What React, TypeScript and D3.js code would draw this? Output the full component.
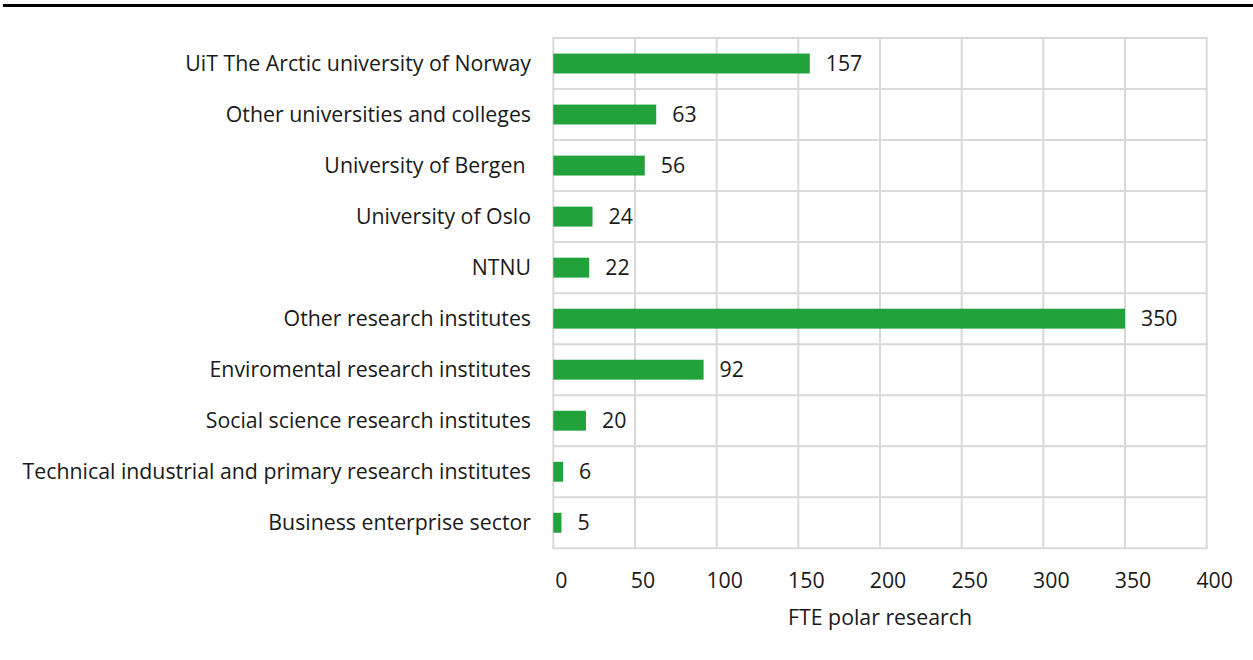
import React from "react";
import * as d3 from "d3";

const categories = [
  "UiT The Arctic university of Norway",
  "Other universities and colleges",
  "University of Bergen ",
  "University of Oslo",
  "NTNU",
  "Other research institutes",
  "Enviromental research institutes",
  "Social science research institutes",
  "Technical industrial and primary research institutes",
  "Business enterprise sector",
];
const values = [157, 63, 56, 24, 22, 350, 92, 20, 6, 5];
const xTicks = [0, 50, 100, 150, 200, 250, 300, 350, 400];
const xTitle = "FTE polar research";

const W = 1253;
const H = 660;
const left = 553.3;
const right = 1206.7;
const top = 38;
const bottom = 548.3;
const font = "'Open Sans', sans-serif";
const fs = 21.3;

export default function App() {
  const x = d3.scaleLinear().domain([0, 400]).range([left, right]);
  const y = d3.scaleBand<string>().domain(categories).range([top, bottom]).paddingInner(0.61).paddingOuter(0.305);
  const rows = d3.scaleBand<string>().domain(categories).range([top, bottom]);
  const grid = "#d9d9d9";
  return (
    <svg width={W} height={H} style={{ position: "absolute", left: 0, top: 0, background: "#fff" }}>
      <rect x={3} y={4} width={W - 3} height={3} fill="#000" />
      {categories.map((c) => (
        <line key={"h" + c} x1={left} x2={right} y1={rows(c)!} y2={rows(c)!} stroke={grid} strokeWidth={2} />
      ))}
      <line x1={left - 1} x2={right + 1} y1={bottom} y2={bottom} stroke={grid} strokeWidth={2} />
      {xTicks.map((t) => (
        <line key={"v" + t} x1={x(t)} x2={x(t)} y1={top - 1} y2={bottom} stroke={grid} strokeWidth={2} />
      ))}
      {categories.map((c, i) => (
        <g key={c}>
          <rect x={x(0)} y={y(c)!} width={x(values[i]) - x(0)} height={y.bandwidth()} fill="#22a23b" />
          <text x={x(values[i]) + 16} y={y(c)! + y.bandwidth() / 2} dy="0.36em" fontFamily={font} fontSize={fs} fill="#1a1a1a">
            {values[i]}
          </text>
          <text x={531} y={y(c)! + y.bandwidth() / 2} dy="0.36em" textAnchor="end" fontFamily={font} fontSize={fs} fill="#1a1a1a" style={{ whiteSpace: "pre" }}>
            {c}
          </text>
        </g>
      ))}
      {xTicks.map((t) => (
        <text key={"t" + t} x={x(t) + 8} y={580} dy="0.36em" textAnchor="middle" fontFamily={font} fontSize={fs} fill="#1a1a1a">
          {t}
        </text>
      ))}
      <text x={(left + right) / 2} y={617} dy="0.36em" textAnchor="middle" fontFamily={font} fontSize={fs} fill="#1a1a1a">
        {xTitle}
      </text>
    </svg>
  );
}
